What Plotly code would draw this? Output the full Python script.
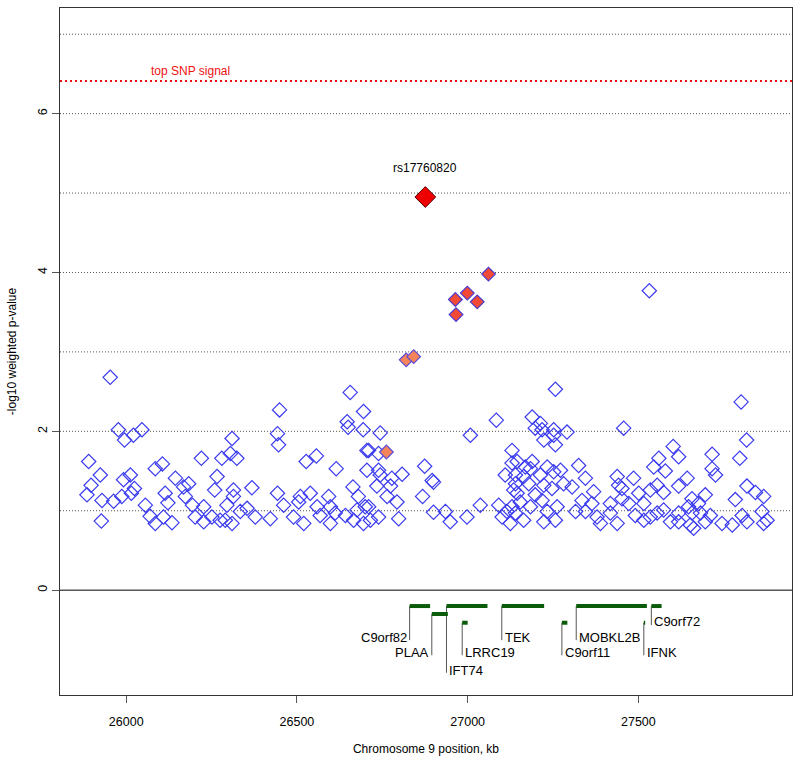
import plotly.graph_objects as go

# ---- SNP data (position in kb, -log10 weighted p-value) ----
blue_pos = [
    25953, 25977, 25995, 26021, 26046, 25890, 25924, 25897, 25885, 25929, 25927, 25963,
    25992, 26012, 26024, 26015, 25987, 26085, 26106, 26056, 26070, 26085, 26109, 26134,
    26114, 26122, 26144, 26168, 26183, 26173, 26194, 26220, 26266, 26259, 26227, 26202,
    26227, 26251, 26280, 26275,
    26310, 26305, 26324, 26449, 26443, 26446, 26656, 26695, 26647, 26650, 26694, 26705,
    26705, 26527, 26557, 26615, 26368, 26314, 26314, 26295, 26290, 26310, 26334, 26354,
    26378, 26422, 26443, 26461, 26490, 26510, 26539, 26505, 26520, 26559, 26568, 26593,
    26598, 26612, 26598, 26642, 26664, 26680, 26676, 26666, 26700, 26695,
    26744, 26710, 26739, 26739, 26744, 26808, 26778, 26734, 26774, 26764, 26793, 26798,
    26710, 26715, 26739, 26874, 26896, 26900, 26868, 26900, 26935, 26949, 26998, 27037,
    27008, 27084, 27091, 27110, 27101, 27130, 27130, 27135, 27130, 27125, 27115,
    27257, 27189, 27213, 27198, 27218, 27252, 27291, 27223, 27252, 27257, 27457, 27145,
    27189, 27184, 27169, 27233, 27252, 27272, 27325, 27560, 27545, 27140, 27164, 27213,
    27140, 27179, 27223, 27281, 27247, 27306, 27345, 27369, 27438, 27442, 27486, 27452,
    27501, 27535, 27555, 27145, 27198, 27154, 27184, 27218, 27262, 27233, 27257, 27223,
    27164, 27140, 27316, 27345, 27335, 27364, 27379, 27389, 27418, 27418, 27438, 27452,
    27472, 27491, 27516, 27535, 27555, 27516, 27532,
    27801, 27817, 27797, 27602, 27618, 27579, 27716, 27716, 27726, 27643, 27618, 27574,
    27818, 27843, 27867, 27784, 27657, 27696, 27676, 27647, 27574, 27618, 27594, 27657,
    27682, 27711, 27696, 27662, 27652, 27745, 27775, 27804, 27818, 27862, 27867, 27877,
    27618,
]
blue_p = [
    2.68, 2.02, 1.89, 1.95, 2.02, 1.62, 1.45, 1.32, 1.20, 1.13, 0.87, 1.12,
    1.39, 1.45, 1.28, 1.22, 1.18, 1.53, 1.59, 1.07, 0.93, 0.84, 0.92, 0.85,
    1.22, 1.10, 1.41, 1.30, 1.34, 1.18, 1.07, 1.66, 1.43, 1.26, 1.05, 0.92,
    0.86, 0.92, 1.66, 0.88,
    1.91, 1.72, 1.66, 2.27, 1.97, 1.83, 2.49, 2.25, 2.12, 2.05, 2.02, 1.76,
    1.51, 1.62, 1.69, 1.53, 1.29, 1.26, 1.18, 1.07, 0.88, 0.84, 0.99, 1.03,
    0.92, 0.90, 1.22, 1.07, 0.92, 1.18, 1.22, 1.11, 0.84, 1.05, 0.94, 1.18,
    1.05, 0.97, 0.84, 0.94, 1.30, 1.18, 1.01, 0.88, 1.05, 0.84,
    1.98, 1.76, 1.72, 1.51, 1.45, 1.46, 1.41, 1.31, 1.31, 1.18, 1.11, 0.90,
    1.05, 0.88, 0.92, 1.56, 1.38, 1.36, 1.18, 0.98, 0.99, 0.86, 0.92, 1.07,
    1.95, 2.14, 1.07, 1.45, 0.92, 1.76, 1.60, 1.26, 1.05, 0.84, 0.99,
    2.53, 2.18, 2.10, 2.04, 2.02, 2.02, 1.99, 1.89, 1.95, 1.83, 2.04, 1.62,
    1.62, 1.53, 1.55, 1.55, 1.49, 1.51, 1.57, 1.66, 1.55, 1.45, 1.43, 1.45,
    1.34, 1.34, 1.32, 1.34, 1.28, 1.30, 1.41, 1.24, 1.43, 1.32, 1.41, 1.28,
    1.22, 1.26, 1.32, 1.22, 1.20, 1.11, 1.05, 1.13, 1.05, 0.99, 0.88, 0.86,
    0.88, 0.97, 0.99, 0.99, 1.13, 1.09, 0.92, 0.84, 1.09, 0.97, 0.84, 1.15,
    1.09, 0.94, 1.09, 0.92, 0.97, 0.88, 3.77,
    2.37, 1.89, 1.66, 1.81, 1.68, 1.50, 1.71, 1.53, 1.45, 1.41, 1.31, 1.23,
    1.31, 1.23, 1.18, 1.14, 1.15, 1.20, 1.09, 1.05, 1.01, 0.97, 0.86, 0.97,
    0.97, 0.94, 0.86, 0.78, 0.82, 0.84, 0.82, 0.94, 0.86, 0.99, 0.84, 0.88,
    0.86,
]

red_pos = [27061, 26999, 26964, 27028, 26966]
red_p = [3.98, 3.74, 3.66, 3.63, 3.47]

orange_pos = [26820, 26842, 26762]
orange_p = [2.90, 2.94, 1.74]

top_snp_name = "rs17760820"
top_snp_pos = 26876
top_snp_p = 4.95
top_signal = 6.41

# ---- gene track ----
gene_names = ["C9orf82", "PLAA", "IFT74", "LRRC19", "TEK", "C9orf11", "MOBKL2B", "IFNK", "C9orf72"]
gene_start = [26830, 26895, 26938, 26984, 27100, 27276, 27318, 27516, 27538]
gene_end = [26890, 26942, 27058, 27000, 27224, 27292, 27525, 27519, 27568]
gene_row = [-0.20, -0.30, -0.20, -0.41, -0.20, -0.41, -0.20, -0.41, -0.20]
gene_line_end = [-0.63, -0.82, -1.04, -0.82, -0.63, -0.82, -0.63, -0.82, -0.44]
gene_label_y = [-0.59, -0.79, -1.01, -0.79, -0.59, -0.79, -0.59, -0.79, -0.40]
gene_label_side = ["left", "left", "right", "right", "right", "right", "right", "right", "right"]

x_ticks = [26000, 26500, 27000, 27500]
y_ticks = [0, 2, 4, 6]
grid_levels = [1, 2, 3, 4, 5, 6, 7]

FONT = "Liberation Sans, Arial, sans-serif"

fig = go.Figure()

# gene connector lines
for i, g in enumerate(gene_names):
    fig.add_trace(go.Scatter(
        x=[gene_start[i], gene_start[i]], y=[gene_row[i], gene_line_end[i]],
        mode="lines", line=dict(color="#555555", width=1), hoverinfo="skip", showlegend=False))
# gene bars
for i, g in enumerate(gene_names):
    s, e = gene_start[i], gene_end[i]
    if e - s < 4:
        e = s + 4
    fig.add_trace(go.Scatter(
        x=[s, e], y=[gene_row[i], gene_row[i]],
        mode="lines", line=dict(color="#0a5c0a", width=4), hoverinfo="skip", showlegend=False))

fig.add_trace(go.Scatter(
    x=blue_pos, y=blue_p, mode="markers",
    marker=dict(symbol="diamond-open", size=11, color="#3a3aF0", line=dict(width=1.2, color="#3a3aF0")),
    showlegend=False))
fig.add_trace(go.Scatter(
    x=orange_pos, y=orange_p, mode="markers",
    marker=dict(symbol="diamond", size=10.5, color="#F5845A", line=dict(width=1.2, color="#5a4ad8")),
    showlegend=False))
fig.add_trace(go.Scatter(
    x=red_pos, y=red_p, mode="markers",
    marker=dict(symbol="diamond", size=10.5, color="#F24A35", line=dict(width=1.2, color="#4a3ad0")),
    showlegend=False))
fig.add_trace(go.Scatter(
    x=[top_snp_pos], y=[top_snp_p], mode="markers",
    marker=dict(symbol="diamond", size=16, color="#EE0000", line=dict(width=1, color="#550000")),
    showlegend=False))

shapes = []
for lv in grid_levels:
    shapes.append(dict(type="line", xref="paper", yref="y", x0=0, x1=1, y0=lv, y1=lv,
                       line=dict(color="#555555", width=1, dash="1px,2px"), layer="below"))
shapes.append(dict(type="line", xref="paper", yref="y", x0=0, x1=1, y0=0, y1=0,
                   line=dict(color="black", width=1)))
shapes.append(dict(type="line", xref="paper", yref="y", x0=0, x1=1, y0=top_signal, y1=top_signal,
                   line=dict(color="#EE1111", width=2, dash="2px,3px")))

annotations = [
    dict(x=26188, y=top_signal, xref="x", yref="y", text="top SNP signal", showarrow=False,
         yanchor="bottom", yshift=1, font=dict(color="#EE1111", size=12, family=FONT)),
    dict(x=top_snp_pos, y=top_snp_p, xref="x", yref="y", text=top_snp_name, showarrow=False,
         yanchor="bottom", yshift=20, font=dict(color="black", size=12, family=FONT)),
]
for i, g in enumerate(gene_names):
    if gene_label_side[i] == "left":
        annotations.append(dict(x=gene_start[i], y=gene_label_y[i], xref="x", yref="y", text=g,
                                showarrow=False, xanchor="right", yanchor="middle", xshift=-1,
                                font=dict(size=13, color="black", family=FONT)))
    else:
        annotations.append(dict(x=gene_start[i], y=gene_label_y[i], xref="x", yref="y", text=g,
                                showarrow=False, xanchor="left", yanchor="middle", xshift=1,
                                font=dict(size=13, color="black", family=FONT)))

fig.update_layout(
    width=800, height=762,
    margin=dict(l=60, r=8, t=8, b=67),
    plot_bgcolor="white", paper_bgcolor="white",
    font=dict(family=FONT, size=12, color="black"),
    shapes=shapes, annotations=annotations,
    xaxis=dict(range=[25806, 27950], tickvals=x_ticks, ticktext=[str(t) for t in x_ticks],
               showgrid=False, zeroline=False, showline=True, mirror=True, linecolor="#333333",
               linewidth=1, ticks="outside", ticklen=7, tickcolor="#555555", automargin=False,
               ticklabelstandoff=8, tickfont=dict(size=12.5),
               title=dict(text="Chromosome 9 position, kb", standoff=16, font=dict(size=12))),
    yaxis=dict(range=[-1.32, 7.33], tickvals=y_ticks, ticktext=[str(t) for t in y_ticks],
               tickangle=-90, showgrid=False, zeroline=False, showline=True, mirror=True,
               linecolor="#333333", linewidth=1, ticks="outside", ticklen=7, tickcolor="#555555",
               automargin=False, tickfont=dict(size=12.5),
               title=dict(text="-log10 weighted p-value", standoff=16, font=dict(size=12))),
)

fig.write_html(
    "out.html",
    config={"displayModeBar": False},
    post_script="document.body.style.margin='0';document.body.style.overflow='hidden';",
)
